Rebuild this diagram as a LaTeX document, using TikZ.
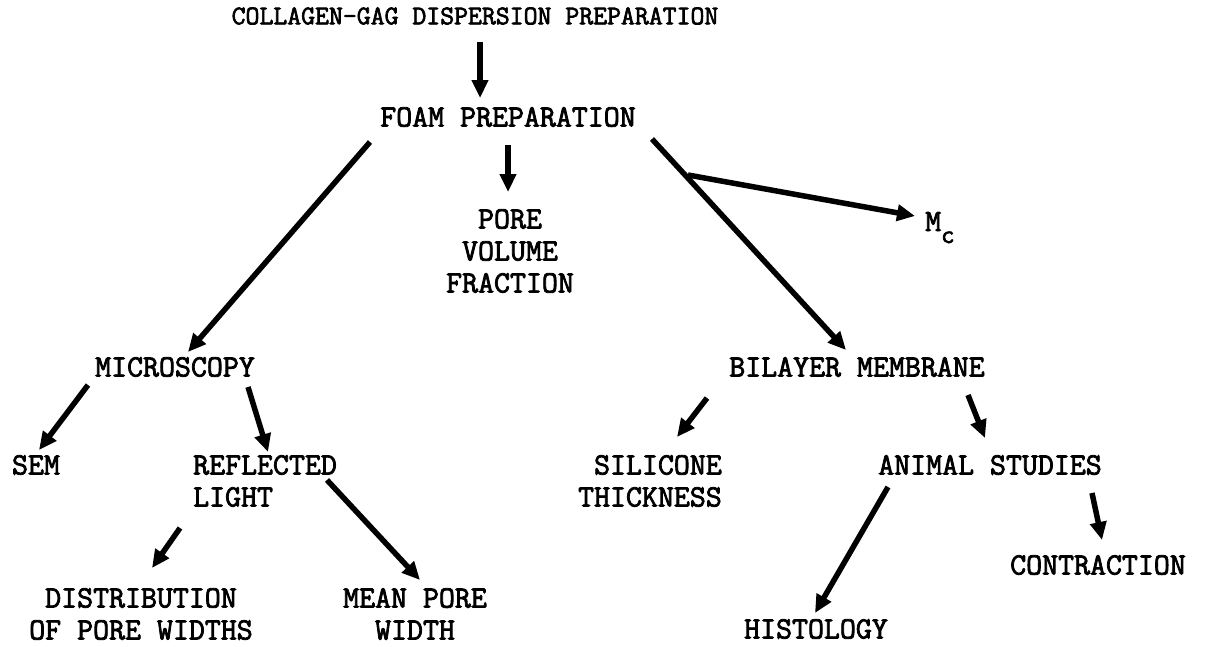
\documentclass[tikz,border=0pt]{standalone}
\usepackage{fontspec}
\usetikzlibrary{arrows.meta}
\newfontfamily\twfam{Latin Modern Mono}[FakeBold=2.5]
\newcommand\twfont[1]{\twfam\fontsize{#1}{32}\selectfont}
\begin{document}
\begin{tikzpicture}[x=1pt,y=-1pt,
  lab/.style={font=\twfont{31}, inner sep=0pt, align=center},
  toplab/.style={font=\twfont{27}, inner sep=0pt},
  arr/.style={line width=5.5pt, -{Triangle[length=18pt,width=16pt]}}]
\useasboundingbox (0,0) rectangle (1210,646);
% nodes
\node[toplab] (top) at (475,16) {COLLAGEN-GAG DISPERSION PREPARATION};
\node[lab] (foam) at (508,117) {FOAM PREPARATION};
\node[lab] (pore) at (510,251) {PORE\\VOLUME\\FRACTION};
\node[lab, anchor=base west] (mc) at (925,231) {M\raisebox{-12pt}{\fontsize{26}{26}\selectfont c}};
\node[lab] (micro) at (175,367) {MICROSCOPY};
\node[lab] (bilayer) at (857,367) {BILAYER MEMBRANE};
\node[lab] (sem) at (36,465) {SEM};
\node[lab, align=left, anchor=west] (refl) at (193,481) {REFLECTED\\LIGHT};
\node[lab, align=right, anchor=east] (sili) at (722,481) {SILICONE\\THICKNESS};
\node[lab] (animal) at (990,465) {ANIMAL STUDIES};
\node[lab] (dist) at (141,614) {DISTRIBUTION\\OF PORE WIDTHS};
\node[lab] (mean) at (415,614) {MEAN PORE\\WIDTH};
\node[lab] (hist) at (816,629) {HISTOLOGY};
\node[lab] (contr) at (1098,565) {CONTRACTION};
% connectors
\draw[arr] ([shift={(5,26)}]top.center) -- ([shift={(-28,-19)}]foam.center);
\draw[arr] ([shift={(-138,25)}]foam.center) -- ([shift={(13,-15)}]micro.center);
\draw[arr] ([shift={(0,28)}]foam.center) -- ([shift={(-2,-59)}]pore.center);
\draw[arr] ([shift={(144,22)}]foam.center) -- ([shift={(-11,-17)}]bilayer.center);
\coordinate (fork) at (688,175);
\draw[arr] (fork) -- ([shift={(-10,-15)}]mc.base west);
\draw[arr] ([shift={(-87,18)}]micro.center) -- ([shift={(3,-15)}]sem.center);
\draw[arr] ([shift={(73,20)}]micro.center) -- ([shift={(75,-29)}]refl.west);
\draw[arr] ([shift={(-13,47)}]refl.west) -- ([shift={(11,-46)}]dist.center);
\draw[arr] ([shift={(134,-1)}]refl.west) -- ([shift={(5,-34)}]mean.center);
\draw[arr] ([shift={(-150,31)}]bilayer.center) -- ([shift={(-45,-44)}]sili.east);
\draw[arr] ([shift={(111,28)}]bilayer.center) -- ([shift={(-5,-27)}]animal.center);
\draw[arr] ([shift={(-102,22)}]animal.center) -- ([shift={(-1,-16)}]hist.center);
\draw[arr] ([shift={(102,28)}]animal.center) -- ([shift={(4,-25)}]contr.center);
\end{tikzpicture}
\end{document}
